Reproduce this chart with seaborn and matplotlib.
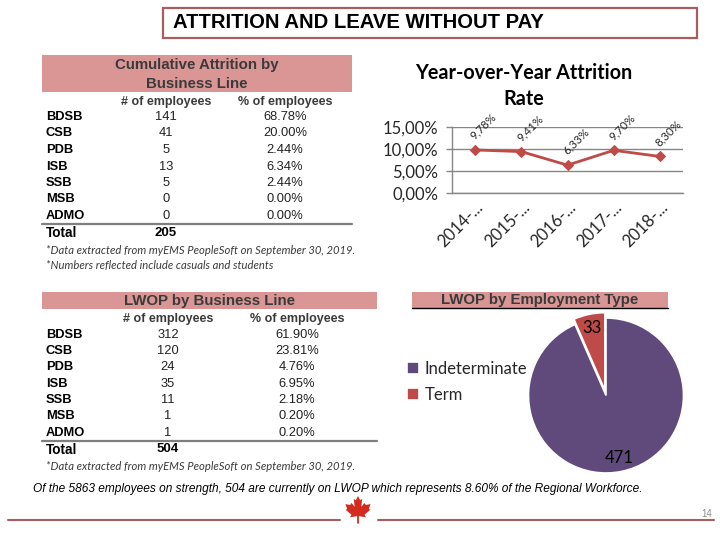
"""Slide: attrition and leave without pay (LWOP) overview."""

import matplotlib.pyplot as plt
import numpy as np
import seaborn as sns
from matplotlib.patches import Polygon, Rectangle

sns.set_style("white")
plt.rcParams["font.family"] = ["Liberation Sans", "DejaVu Sans"]

# --- data ---
business_lines = ["BDSB", "CSB", "PDB", "ISB", "SSB", "MSB", "ADMO"]
attrition_counts = [141, 41, 5, 13, 5, 0, 0]
attrition_pcts = [68.78, 20.00, 2.44, 6.34, 2.44, 0.00, 0.00]
lwop_counts = [312, 120, 24, 35, 11, 1, 1]
lwop_pcts = [61.90, 23.81, 4.76, 6.95, 2.18, 0.20, 0.20]

fiscal_years = ["2014-...", "2015-...", "2016-...", "2017-...", "2018-..."]
attrition_rates = [9.78, 9.41, 6.33, 9.70, 8.30]

employment_types = ["Indeterminate", "Term"]
lwop_by_type = [471, 33]

RED = "#BE4B48"
PURPLE = "#5F4A7B"
BAND = "#D99694"
FRAME = "#A65E5E"
DARK = "#3A3A3A"
CALIBRI = ["Lato", "DejaVu Sans"]


def pct_comma(v):
    return f"{v:.2f}%".replace(".", ",")


def draw_table(bg, band, title_lines, title_y, head_y, cols_x, row_ys,
               counts, pcts, line_y, total_y, notes):
    x0, y0, x1, y1 = band
    bg.add_patch(Rectangle((x0, y0), x1 - x0, y1 - y0, color=BAND, lw=0))
    cx = (x0 + x1) / 2
    for line, ty in zip(title_lines, title_y):
        bg.text(cx, ty, line, ha="center", va="center", fontsize=10.8,
                fontweight="bold", color=DARK)
    bg.text(cols_x[0], head_y, "# of employees", ha="center", va="center",
            fontsize=9, fontweight="bold", color=DARK)
    bg.text(cols_x[1], head_y, "% of employees", ha="center", va="center",
            fontsize=9, fontweight="bold", color=DARK)
    for lab, n, p, ry in zip(business_lines, counts, pcts, row_ys):
        bg.text(x0 + 4, ry, lab, ha="left", va="center", fontsize=9.3,
                fontweight="bold", color="black")
        bg.text(cols_x[0], ry, str(n), ha="center", va="center",
                fontsize=9.3, color="#222222")
        bg.text(cols_x[1], ry, f"{p:.2f}%", ha="center", va="center",
                fontsize=9.3, color="#222222")
    bg.plot([x0, x1], [line_y, line_y], color="#7F7F7F", lw=1.6)
    bg.text(x0 + 4, total_y, "Total", ha="left", va="center", fontsize=9.8,
            fontweight="bold", color="black")
    bg.text(cols_x[0], total_y, str(sum(counts)), ha="center", va="center",
            fontsize=9.5, fontweight="bold", color="black")
    for note, ny in notes:
        bg.text(x0 + 4, ny, note, ha="left", va="center", fontsize=8.1,
                style="italic", color=DARK, family=CALIBRI)


fig = plt.figure(figsize=(7.2, 5.4), dpi=100)

# background layer in pixel coordinates for the slide furniture
bg = fig.add_axes([0, 0, 1, 1])
bg.set_xlim(0, 720)
bg.set_ylim(540, 0)
bg.axis("off")

bg.add_patch(Rectangle((163, 8), 534, 30, facecolor="white",
                       edgecolor=FRAME, lw=1.6))
bg.text(173, 23, "ATTRITION AND LEAVE WITHOUT PAY", ha="left", va="center",
        fontsize=14.6, fontweight="bold", color="black")

draw_table(
    bg, (42, 55, 352, 92), ["Cumulative Attrition by", "Business Line"],
    [65.5, 84], 102, (166, 285),
    [117, 133.5, 150, 166.5, 183, 199.5, 216],
    attrition_counts, attrition_pcts, 224, 233,
    [("*Data extracted from myEMS PeopleSoft on September 30, 2019.", 250),
     ("*Numbers reflected include casuals and students", 266)],
)
draw_table(
    bg, (42, 292, 377, 309), ["LWOP by Business Line"], [300.5], 319,
    (168, 297), [335, 351, 367.5, 384, 400, 416, 432.5],
    lwop_counts, lwop_pcts, 441, 449.5,
    [("*Data extracted from myEMS PeopleSoft on September 30, 2019.", 466)],
)

# --- year-over-year attrition line chart ---
bg.text(524, 73, "Year-over-Year Attrition", ha="center", va="center",
        fontsize=14.2, fontweight="bold", family=CALIBRI, color="black")
bg.text(524, 99, "Rate", ha="center", va="center", fontsize=14.2,
        fontweight="bold", family=CALIBRI, color="black")

ax = fig.add_axes([452 / 720, 1 - 193 / 540, 231 / 720, 66 / 540])
sns.lineplot(x=np.arange(len(attrition_rates)), y=attrition_rates, ax=ax,
             color=RED, marker="D", markersize=5, linewidth=2,
             markeredgecolor=RED)
ax.set_xlim(-0.5, len(attrition_rates) - 0.5)
ax.set_ylim(0, 15)
ax.set_yticks([0, 5, 10, 15], [pct_comma(v) for v in [0, 5, 10, 15]])
ax.set_xticks(np.arange(len(fiscal_years)), fiscal_years, rotation=45,
              ha="right", rotation_mode="anchor")
ax.set_xticks(np.arange(len(fiscal_years) + 1) - 0.5, minor=True)
ax.tick_params(axis="x", which="major", length=0, pad=4, labelsize=12)
ax.tick_params(axis="x", which="minor", length=4, direction="out",
               color="#868686", width=1)
ax.tick_params(axis="y", length=4, direction="out", color="#868686",
               width=1, pad=6, labelsize=12, left=True)
for t in ax.get_xticklabels() + ax.get_yticklabels():
    t.set_family(CALIBRI)
ax.grid(axis="y", color="#868686", lw=1)
ax.set_axisbelow(True)
for side in ("top", "right"):
    ax.spines[side].set_visible(False)
for side in ("left", "bottom"):
    ax.spines[side].set_color("#868686")
    ax.spines[side].set_linewidth(1)
ax.set_xlabel("")
ax.set_ylabel("")
for i, v in enumerate(attrition_rates):
    ax.annotate(pct_comma(v), (i, v), xytext=(6, 17),
                textcoords="offset points", rotation=45, ha="center",
                va="center", fontsize=8.3, family=CALIBRI,
                annotation_clip=False)

# --- LWOP by employment type pie ---
bg.add_patch(Rectangle((412, 292), 256, 16, color=BAND, lw=0))
bg.plot([412, 668], [308, 308], color="black", lw=1)
bg.text(540, 300, "LWOP by Employment Type", ha="center", va="center",
        fontsize=10.8, fontweight="bold", color=DARK)

r_px = 77.5
side = 2.5 * r_px
ax_pie = fig.add_axes([(606 - side / 2) / 720, 1 - (395.5 + side / 2) / 540,
                       side / 720, side / 540])
wedges, texts = ax_pie.pie(
    lwop_by_type, labels=[str(v) for v in lwop_by_type],
    colors=[PURPLE, RED], startangle=90, counterclock=False,
    explode=[0, 0.07], labeldistance=0.82,
    wedgeprops=dict(edgecolor="white", linewidth=1.2),
    textprops=dict(fontsize=12, family=CALIBRI, color="black"),
)
for t in texts:
    t.set_ha("center")
ax_pie.set_xlim(-1.25, 1.25)
ax_pie.set_ylim(-1.25, 1.25)
fig.legend(wedges, employment_types, loc="center left",
           bbox_to_anchor=(392 / 720, 1 - 382 / 540), frameon=False,
           prop={"family": CALIBRI, "size": 12}, handlelength=0.7,
           handleheight=0.75, handletextpad=0.35, labelspacing=0.62)

# --- footer ---
bg.text(33, 489, "Of the 5863 employees on strength, 504 are currently on "
        "LWOP which represents 8.60% of the Regional Workforce.",
        ha="left", va="center", fontsize=8.55, style="italic", color="black")
bg.plot([8, 340], [520, 520], color=FRAME, lw=1.5)
bg.plot([378, 714], [520, 520], color=FRAME, lw=1.5)
bg.text(712, 514, "14", ha="right", va="center", fontsize=7, color="#8C8C8C")

# maple leaf ornament
half = [(0.00, 0.50), (0.07, 0.36), (0.14, 0.40), (0.11, 0.14),
        (0.22, 0.27), (0.26, 0.20), (0.42, 0.23), (0.36, 0.07),
        (0.41, 0.04), (0.22, -0.12), (0.26, -0.21), (0.03, -0.17),
        (0.03, -0.42)]
leaf = half + [(-x, y) for x, y in reversed(half[1:])]
leaf = [(358 + 30 * x, 511 - 30 * y) for x, y in leaf]
bg.add_patch(Polygon(leaf, closed=True, color="#D52B1E", lw=0))

fig.savefig("out.png", dpi=100)
